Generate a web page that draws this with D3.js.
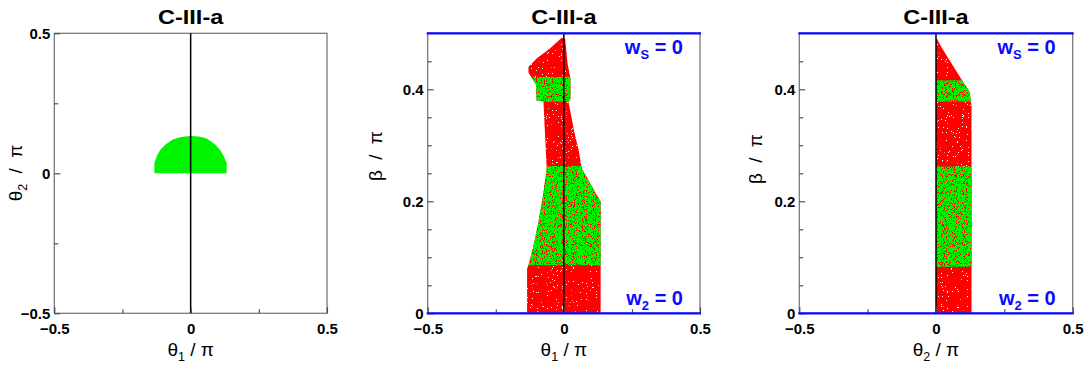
<!DOCTYPE html>
<html>
<head>
<meta charset="utf-8">
<script src="https://cdn.jsdelivr.net/npm/d3@7"></script>
<style>
  body { margin: 0; background: #fff; }
  svg text { font-family: "Liberation Sans", Arial, Helvetica, sans-serif; }
</style>
</head>
<body>
<svg id="chart" width="1087" height="373"></svg>
<script>
// ---- data ----
const panelTitle = "C-III-a";
const angleTicks = [-0.5, 0, 0.5];
const angleMinorTicks = [-0.25, 0.25];
const betaTicks = [0, 0.2, 0.4];
const betaMinorTicks = [0.05, 0.1, 0.15, 0.25, 0.3, 0.35, 0.45];

// allowed region in the (theta1, theta2) plane
const regionTheta1Theta2 = [
  [-0.133, 0], [-0.133, 0.036], [-0.124, 0.062], [-0.112, 0.083], [-0.09, 0.105],
  [-0.064, 0.122], [-0.035, 0.13], [-0.002, 0.133], [0.03, 0.131], [0.059, 0.124],
  [0.088, 0.105], [0.108, 0.083], [0.122, 0.06], [0.132, 0.036], [0.132, 0]
];

// allowed region in the (theta1, beta) plane
const regionTheta1Beta = [
  [-0.135, 0], [0.135, 0], [0.135, 0.2], [0.121, 0.211], [0.09, 0.238],
  [0.066, 0.258], [0.055, 0.29], [0.037, 0.327], [0.017, 0.378], [0.024, 0.382],
  [0.024, 0.42], [0.014, 0.445], [0.005, 0.49], [-0.008, 0.492], [-0.051, 0.473],
  [-0.1, 0.455], [-0.13, 0.44], [-0.13, 0.43], [-0.102, 0.408], [-0.1, 0.38],
  [-0.075, 0.378], [-0.063, 0.258], [-0.075, 0.214], [-0.094, 0.161],
  [-0.112, 0.119], [-0.13, 0.086], [-0.135, 0.08]
];
const greenBandsTheta1Beta = [[0.086, 0.263], [0.378, 0.422]];

// allowed region in the (theta2, beta) plane
const regionTheta2Beta = [
  [0, 0], [0.13, 0], [0.13, 0.37], [0.128, 0.378], [0.122, 0.396],
  [0.094, 0.417], [0.057, 0.446], [0.02, 0.475], [0.004, 0.49], [0, 0.49]
];
const greenBandsTheta2Beta = [[0.083, 0.262], [0.378, 0.416]];

// ---- layout ----
const svg = d3.select("#chart");
const defs = svg.append("defs");
const plotTop = 33.3, plotBottom = 313.3;

const panels = [
  { left: 54.3, right: 327, yDomain: [-0.5, 0.5], yTicks: angleTicks, yMinor: angleMinorTicks,
    xSub: "1", ySym: "θ", ySub: "2", yTitleY: 173, yTitleX: 21.5,
    region: regionTheta1Theta2, redRegion: false, bands: [], walls: false },
  { left: 427.7, right: 700, yDomain: [0, 0.5], yTicks: betaTicks, yMinor: betaMinorTicks,
    xSub: "1", ySym: "β", ySub: null, yTitleY: 156, yTitleX: 382,
    region: regionTheta1Beta, redRegion: true, bands: greenBandsTheta1Beta, walls: true },
  { left: 799.3, right: 1072.7, yDomain: [0, 0.5], yTicks: betaTicks, yMinor: betaMinorTicks,
    xSub: "2", ySym: "β", ySub: null, yTitleY: 159, yTitleX: 761.5,
    region: regionTheta2Beta, redRegion: true, bands: greenBandsTheta2Beta, walls: true }
];

const RED = "#ff0000", GREEN = "#00f400", BLUE = "#0a0aff";

// speckle textures for the dense point clouds
function speckle(id, color, threshold, seed, freq) {
  const f = defs.append("filter").attr("id", id)
    .attr("x", 0).attr("y", 0).attr("width", 1).attr("height", 1)
    .attr("color-interpolation-filters", "sRGB");
  f.append("feTurbulence").attr("type", "fractalNoise").attr("baseFrequency", freq)
    .attr("numOctaves", 2).attr("seed", seed).attr("result", "noise");
  const c = d3.color(color);
  f.append("feColorMatrix").attr("in", "noise").attr("type", "matrix")
    .attr("values", `0 0 0 0 ${c.r/255}  0 0 0 0 ${c.g/255}  0 0 0 0 ${c.b/255}  40 0 0 0 ${-40*threshold}`)
    .attr("result", "dots");
  f.append("feComposite").attr("in", "dots").attr("in2", "SourceGraphic")
    .attr("operator", "in").attr("result", "clipped");
  const m = f.append("feMerge");
  m.append("feMergeNode").attr("in", "SourceGraphic");
  m.append("feMergeNode").attr("in", "clipped");
}
speckle("redInGreen", RED, 0.585, 4, 0.9);
speckle("whiteInRed", "#ffffff", 0.71, 9, 0.8);

panels.forEach((p, i) => {
  const x = d3.scaleLinear().domain([-0.5, 0.5]).range([p.left, p.right]);
  const y = d3.scaleLinear().domain(p.yDomain).range([plotBottom, plotTop]);
  const g = svg.append("g");
  const line = d3.line().x(d => x(d[0])).y(d => y(d[1]));

  // point-cloud regions
  if (p.redRegion) {
    g.append("path").attr("d", line(p.region) + "Z")
      .attr("fill", RED).attr("filter", "url(#whiteInRed)");
    defs.append("clipPath").attr("id", "clip" + i)
      .append("path").attr("d", line(p.region) + "Z");
    g.selectAll(".band").data(p.bands).join("rect")
      .attr("x", x(-0.5)).attr("width", x(0.5) - x(-0.5))
      .attr("y", d => y(d[1])).attr("height", d => y(d[0]) - y(d[1]))
      .attr("fill", GREEN)
      .attr("clip-path", `url(#clip${i})`)
      .attr("filter", "url(#redInGreen)");
  } else {
    g.append("path").attr("d", line(p.region) + "Z").attr("fill", GREEN);
  }

  // frame
  g.append("rect").attr("x", p.left).attr("y", plotTop)
    .attr("width", p.right - p.left).attr("height", plotBottom - plotTop)
    .attr("fill", "none").attr("stroke", "#7a7a7a").attr("stroke-width", 1.3);

  // zero line
  g.append("line").attr("x1", x(0)).attr("x2", x(0)).attr("y1", plotTop).attr("y2", plotBottom)
    .attr("stroke", "#000").attr("stroke-width", 1.5);

  // axes (ticks pointing inward)
  const fmt = d => d === 0 ? "0" : (d < 0 ? "\u2212" + Math.abs(d) : String(d));
  const xa = g.append("g").attr("transform", `translate(0,${plotBottom})`)
    .call(d3.axisBottom(x).tickValues(angleTicks).tickSize(-6).tickPadding(10).tickFormat(fmt));
  const xm = g.append("g").attr("transform", `translate(0,${plotBottom})`)
    .call(d3.axisBottom(x).tickValues(angleMinorTicks).tickSize(-4).tickFormat(""));
  const ya = g.append("g").attr("transform", `translate(${p.left},0)`)
    .call(d3.axisLeft(y).tickValues(p.yTicks).tickSize(-6).tickPadding(4)
      .tickFormat(p.yDomain[0] === 0 ? (d => d === 0 ? "0" : d.toFixed(1)) : fmt));
  const ym = g.append("g").attr("transform", `translate(${p.left},0)`)
    .call(d3.axisLeft(y).tickValues(p.yMinor).tickSize(-4).tickFormat(""));
  [xa, xm, ya, ym].forEach(a => {
    a.select(".domain").remove();
    a.selectAll(".tick line").attr("stroke", "#444").attr("stroke-width", 1.1);
    a.selectAll("text").attr("font-size", 15).attr("font-weight", "bold")
      .attr("font-family", '"Liberation Sans", Arial, sans-serif').attr("fill", "#000");
  });

  // walls of the parameter space
  if (p.walls) {
    [plotTop, plotBottom].forEach(yy => g.append("line")
      .attr("x1", p.left - 1).attr("x2", p.right + 1).attr("y1", yy).attr("y2", yy)
      .attr("stroke", BLUE).attr("stroke-width", 2.2));
    const wall = (label, sub, yy) => {
      const t = g.append("text").attr("x", p.right - 17).attr("y", yy)
        .attr("text-anchor", "end").attr("font-size", 20).attr("font-weight", "bold")
        .attr("fill", BLUE);
      t.append("tspan").text(label);
      t.append("tspan").attr("font-size", 13).attr("dy", 5).text(sub);
      t.append("tspan").attr("dy", -5).text(" = 0");
    };
    wall("w", "S", 53.5);
    wall("w", "2", 304.5);
  }

  // title
  g.append("text")
    .attr("transform", `translate(${(p.left + p.right) / 2},24) scale(1.12,1)`)
    .attr("text-anchor", "middle").attr("font-size", 21).attr("font-weight", "bold")
    .text(panelTitle);

  // x axis title
  const xt = g.append("text").attr("x", x(0)).attr("y", 356)
    .attr("text-anchor", "middle").attr("font-size", 19);
  xt.append("tspan").text("θ");
  xt.append("tspan").attr("font-size", 12.5).attr("dy", 5).text(p.xSub);
  xt.append("tspan").attr("dy", -5).text(" / π");

  // y axis title
  const yt = g.append("text")
    .attr("transform", `translate(${p.yTitleX},${p.yTitleY}) rotate(-90)`)
    .attr("text-anchor", "middle").attr("font-size", 19).attr("word-spacing", 5);
  yt.append("tspan").text(p.ySym);
  if (p.ySub) {
    yt.append("tspan").attr("font-size", 12.5).attr("dy", 5).text(p.ySub);
    yt.append("tspan").attr("dy", -5).text(" / π");
  } else {
    yt.append("tspan").text(" / π");
  }
});
</script>
</body>
</html>
